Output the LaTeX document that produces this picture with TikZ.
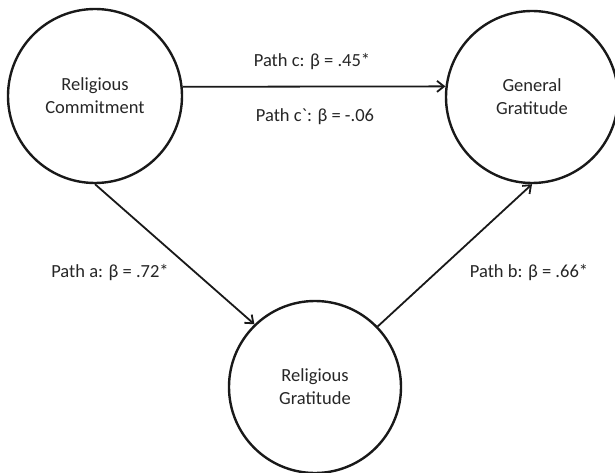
\documentclass[tikz,border=0pt]{standalone}
\usepackage{fontspec}
\setmainfont{Carlito}
\usetikzlibrary{arrows.meta}
\begin{document}
\begin{tikzpicture}[x=1pt,y=-1pt,
  var/.style={circle,draw=black!90,line width=2.4pt,inner sep=0pt,align=center,text=black!85,font=\fontsize{18.5}{23}\selectfont},
  arr/.style={draw=black!90,line width=1.8pt,-{Straight Barb[length=7pt,width=11pt,line width=1.8pt]}},
  lab/.style={inner sep=0pt,text=black!85,font=\fontsize{18.5}{23}\selectfont}]
\useasboundingbox (0,0) rectangle (615,473);
\node[var,minimum size=174pt] (L) at (95,96) {Religious\\Commitment};
\node[var,minimum size=172pt] (R) at (532,97) {General\\Gratitude};
\node[var,minimum size=172pt] (B) at (315,387) {Religious\\Gratitude};
\draw[arr] (L.6.6) -- (R.173.4);
\draw[arr] (L.south) -- (B.134);
\draw[arr] (B.44.5) -- (R.south);
\node[lab] (lc) at (312,62) {Path c: β = .45*};
\node[lab] (lcp) at (315,117) {Path c\textasciigrave: β = -.06};
\node[lab] (la) at (110,273) {Path a: β = .72*};
\node[lab] (lb) at (529,273) {Path b: β = .66*};
\end{tikzpicture}
\end{document}
